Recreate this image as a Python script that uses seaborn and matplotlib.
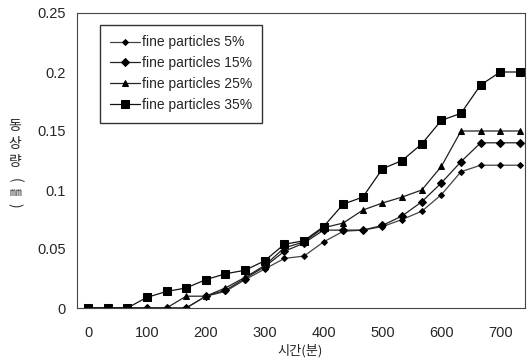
import numpy as np
import pandas as pd
import matplotlib
matplotlib.use("Agg")
import matplotlib.pyplot as plt
import seaborn as sns

# ---- data ----
time_min = [i * 100 / 3 for i in range(23)]
series_names = ["fine particles 5%", "fine particles 15%", "fine particles 25%", "fine particles 35%"]
p5 = [0, 0, 0, 0, 0, 0, 0.010, 0.014, 0.024, 0.033, 0.042, 0.044, 0.056, 0.065, 0.066,
      0.069, 0.075, 0.082, 0.096, 0.1155, 0.121, 0.121, 0.121]
p15 = [0, 0, 0, 0, 0, 0, 0.010, 0.015, 0.025, 0.035, 0.048, 0.055, 0.066, 0.066, 0.066,
       0.070, 0.078, 0.090, 0.106, 0.124, 0.140, 0.140, 0.140]
p25 = [0, 0, 0, 0, 0, 0.010, 0.010, 0.017, 0.026, 0.036, 0.051, 0.056, 0.068, 0.072, 0.083,
       0.089, 0.094, 0.100, 0.120, 0.150, 0.150, 0.150, 0.150]
p35 = [0, 0, 0, 0.009, 0.014, 0.017, 0.024, 0.029, 0.032, 0.040, 0.054, 0.057, 0.069, 0.088, 0.094,
       0.118, 0.125, 0.139, 0.159, 0.165, 0.189, 0.200, 0.200]
x_ticks = [0, 100, 200, 300, 400, 500, 600, 700]
y_ticks = [0, 0.05, 0.1, 0.15, 0.2, 0.25]
y_ticklabels = ["0", "0.05", "0.1", "0.15", "0.2", "0.25"]
x_label = "시간(분)"
y_label_chars = ["동", "상", "량", "(", "㎜", ")"]

values = [p5, p15, p25, p35]
df = pd.DataFrame({
    "time": np.tile(time_min, 4),
    "value": np.concatenate(values),
    "series": np.repeat(series_names, len(time_min)),
})

sns.set_style("white")
plt.rcParams["font.family"] = ["Liberation Sans", "DejaVu Sans"]

fig = plt.figure(figsize=(5.27, 3.63), dpi=100)
ax = fig.add_axes([77 / 527, 1 - 308 / 363, (525 - 77) / 527, (308 - 13) / 363])

styles = {
    series_names[0]: dict(marker="D", markersize=3.0, color="#444444"),
    series_names[1]: dict(marker="D", markersize=3.8, color="#222222"),
    series_names[2]: dict(marker="^", markersize=5.0, color="#222222"),
    series_names[3]: dict(marker="s", markersize=5.4, color="#111111"),
}
for name in series_names:
    st = styles[name]
    sub = df[df["series"] == name]
    sns.lineplot(data=sub, x="time", y="value", ax=ax, label=name,
                 color=st["color"], marker=st["marker"], markersize=st["markersize"],
                 markeredgecolor="black", markerfacecolor="black", linewidth=0.9,
                 estimator=None, sort=False)

ax.set_xlim(-18.7, 742)
ax.set_ylim(0, 0.25)
ax.set_xticks(x_ticks)
ax.set_xticklabels([str(v) for v in x_ticks], fontsize=10.5)
ax.set_xticks([t + 50 / 3 for t in time_min[:-1]], minor=True)
ax.set_yticks(y_ticks)
ax.set_yticklabels(y_ticklabels, fontsize=10.5)
ax.tick_params(axis="x", which="major", length=0, pad=13)
ax.tick_params(axis="x", which="minor", direction="in", length=3, width=0.7, color="#333333")
ax.tick_params(axis="y", which="major", direction="in", length=3, width=0.7, color="#333333", pad=8)

for side in ["left", "top", "bottom", "right"]:
    ax.spines[side].set_visible(True)
    ax.spines[side].set_color("#444444")
    ax.spines[side].set_linewidth(0.8)

ax.set_xlabel("")
ax.set_ylabel("")
fig.text(300 / 527, 1 - 351 / 363, x_label, ha="center", va="center", fontsize=9.5,
         family=["Noto Sans CJK KR", "DejaVu Sans"])
y_positions = [126, 144, 162, 180, 192, 205]
for ch, yp in zip(y_label_chars, y_positions):
    is_paren = ch in "()"
    fig.text(15 / 527, 1 - yp / 363, ch, ha="center", va="center",
             fontsize=10 if ch != "㎜" else 8.5,
             rotation=270 if is_paren else 0,
             family=["Noto Sans CJK KR", "DejaVu Sans"])

leg = ax.legend(loc="upper left", bbox_to_anchor=((100 - 77) / 448, (308 - 25) / 295),
                frameon=True, fancybox=False, fontsize=10, handlelength=2.1,
                handletextpad=0.15, borderpad=0.75, labelspacing=0.5, borderaxespad=0)
leg.get_frame().set_edgecolor("black")
leg.get_frame().set_linewidth(1.0)

fig.savefig("out.png", dpi=100)
